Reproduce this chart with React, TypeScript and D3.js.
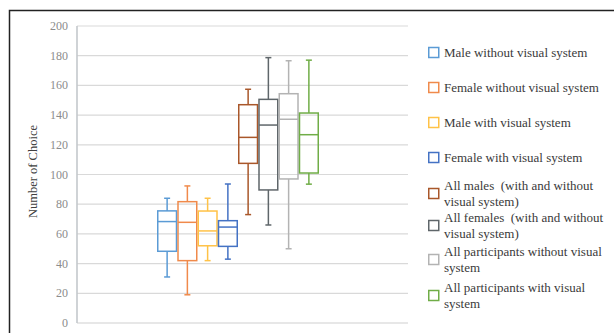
import React, { useRef, useEffect } from "react";
import { select, scaleLinear, scaleBand, range } from "d3";

// series names (legend order)
const seriesNames = [
  "Male without visual system",
  "Female without visual system",
  "Male with visual system",
  "Female with visual system",
  "All males  (with and without visual system)",
  "All females  (with and without visual system)",
  "All participants without visual system",
  "All participants with visual system",
];

// legend text split in lines
const legendLines = [
  ["Male without visual system"],
  ["Female without visual system"],
  ["Male with visual system"],
  ["Female with visual system"],
  ["All males  (with and without", "visual system)"],
  ["All females  (with and without", "visual system)"],
  ["All participants without visual", "system"],
  ["All participants with visual", "system"],
];

const seriesColors = ["#5b9bd5", "#f08a4b", "#ffc247", "#4472c4", "#a9572a", "#5f666a", "#b3b3b3", "#70ad47"];

// min, q1, median, q3, max
const mins = [31, 19, 42, 43, 73, 66, 50, 93.5];
const q1s = [48.3, 42, 52, 51.6, 107.5, 89.6, 97, 101];
const medians = [68.3, 67.8, 62, 64.6, 125, 133.3, 137.2, 126.8];
const q3s = [75.5, 81.7, 75.4, 68.9, 147, 150.6, 154.4, 141.4];
const maxs = [84, 92.3, 84, 93.6, 157.4, 178.7, 176.6, 177];

const yTicks = range(0, 201, 20);

const W = 614;
const H = 333;

function BoxChart() {
  const svgRef = useRef<SVGSVGElement>(null);

  useEffect(() => {
    const svg = select(svgRef.current);
    svg.selectAll("*").remove();

    const plotLeft = 77;
    const plotRight = 408;

    const yScale = scaleLinear().domain([0, 200]).range([323, 26]);
    const xScale = scaleBand<number>()
      .domain(seriesNames.map((d, i) => i))
      .range([157, 319])
      .padding(0);

    // outer frame
    svg.append("rect")
      .attr("x", 9.5).attr("y", 10.5)
      .attr("width", W).attr("height", H)
      .attr("fill", "none").attr("stroke", "#222").attr("stroke-width", 1.5);

    // gridlines
    svg.selectAll(".grid")
      .data(yTicks.filter(t => t > 0))
      .join("line")
      .attr("class", "grid")
      .attr("x1", plotLeft).attr("x2", plotRight)
      .attr("y1", d => yScale(d)).attr("y2", d => yScale(d))
      .attr("stroke", "#d9d9d9").attr("stroke-width", 1.2);

    // baseline
    svg.append("line")
      .attr("x1", plotLeft).attr("x2", plotRight)
      .attr("y1", yScale(0)).attr("y2", yScale(0))
      .attr("stroke", "#d0d0d0").attr("stroke-width", 1.2);

    // y axis line
    svg.append("line")
      .attr("x1", plotLeft).attr("x2", plotLeft)
      .attr("y1", yScale(200)).attr("y2", yScale(0))
      .attr("stroke", "#c4c8cc").attr("stroke-width", 1.6);

    // tick labels
    svg.selectAll(".tick")
      .data(yTicks)
      .join("text")
      .attr("class", "tick")
      .attr("x", 68)
      .attr("y", d => yScale(d) + 4)
      .attr("text-anchor", "end")
      .attr("font-family", "Liberation Serif")
      .attr("font-size", 12)
      .attr("fill", "#8c8c8c")
      .text(d => d);

    // axis title
    svg.append("text")
      .attr("transform", `translate(37, ${yScale(100) - 3}) rotate(-90)`)
      .attr("text-anchor", "middle")
      .attr("font-family", "Liberation Serif")
      .attr("font-size", 12.5)
      .attr("fill", "#404040")
      .text("Number of Choice");

    // boxes
    const capHalf = 3;
    const g = svg.selectAll(".box")
      .data(seriesNames.map((name, i) => i))
      .join("g")
      .attr("class", "box")
      .attr("stroke", i => seriesColors[i])
      .attr("stroke-width", 1.5)
      .attr("fill", "none");

    const cx = (i: number) => xScale(i)! + xScale.bandwidth() / 2;

    g.append("line")
      .attr("x1", cx).attr("x2", cx)
      .attr("y1", i => yScale(mins[i])).attr("y2", i => yScale(q1s[i]));
    g.append("line")
      .attr("x1", cx).attr("x2", cx)
      .attr("y1", i => yScale(q3s[i])).attr("y2", i => yScale(maxs[i]));
    g.append("line")
      .attr("x1", i => cx(i) - capHalf).attr("x2", i => cx(i) + capHalf)
      .attr("y1", i => yScale(mins[i])).attr("y2", i => yScale(mins[i]));
    g.append("line")
      .attr("x1", i => cx(i) - capHalf).attr("x2", i => cx(i) + capHalf)
      .attr("y1", i => yScale(maxs[i])).attr("y2", i => yScale(maxs[i]));
    g.append("rect")
      .attr("x", i => xScale(i)! + 0.75)
      .attr("width", xScale.bandwidth() - 1.5)
      .attr("y", i => yScale(q3s[i]))
      .attr("height", i => yScale(q1s[i]) - yScale(q3s[i]));
    g.append("line")
      .attr("x1", i => xScale(i)! + 0.75).attr("x2", i => xScale(i)! + xScale.bandwidth() - 0.75)
      .attr("y1", i => yScale(medians[i])).attr("y2", i => yScale(medians[i]));

    // legend
    const legendTops = [47, 82, 117, 152, 186, 218, 252, 288];
    const lg = svg.selectAll(".legend")
      .data(legendLines)
      .join("g")
      .attr("class", "legend")
      .attr("transform", (d, i) => `translate(428, ${legendTops[i]})`);

    lg.append("rect")
      .attr("x", 0.75)
      .attr("y", d => (d.length === 1 ? 0.5 : 2.5))
      .attr("width", 10).attr("height", 10)
      .attr("fill", "none")
      .attr("stroke", (d, i) => seriesColors[i])
      .attr("stroke-width", 1.5);

    lg.each(function (d) {
      const t = select(this).append("text")
        .attr("font-family", "Liberation Serif")
        .attr("font-size", 13)
        .attr("fill", "#3a3a3a");
      d.forEach((line, k) => {
        t.append("tspan")
          .attr("x", 16)
          .attr("y", (d.length === 1 ? 10 : 4) + k * 15.5)
          .attr("xml:space", "preserve")
          .text(line);
      });
    });
  }, []);

  return <svg ref={svgRef} width={W} height={H} style={{ display: "block" }}></svg>;
}

export default function App() {
  return (
    <div style={{ position: "absolute", left: 0, top: 0, width: W, height: H, background: "#fff" }}>
      <BoxChart />
    </div>
  );
}
